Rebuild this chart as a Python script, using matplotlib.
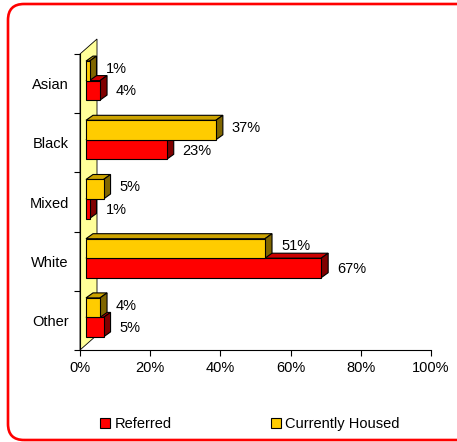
import matplotlib
matplotlib.use("Agg")
import matplotlib.pyplot as plt
from matplotlib.patches import Polygon, FancyBboxPatch, Patch
from matplotlib.transforms import IdentityTransform

plt.rcParams['font.family'] = ['Liberation Sans', 'DejaVu Sans']

categories = ['Asian', 'Black', 'Mixed', 'White', 'Other']
referred = [4, 23, 1, 67, 5]
housed = [1, 37, 5, 51, 4]
xticks = [0, 20, 40, 60, 80, 100]

W, H = 457, 442
fig = plt.figure(figsize=(W / 100, H / 100), dpi=100)

# plot box in pixels: x 80..431, y 54..350 (from top)
px_l, px_r, px_t, px_b = 80, 431, 54, 350
ax = fig.add_axes([px_l / W, (H - px_b) / H, (px_r - px_l) / W, (px_b - px_t) / H])
n = len(categories)
ax.set_xlim(0, 100)
ax.set_ylim(0, n)

# pixel -> data helpers
sx = 100 / (px_r - px_l)
sy = n / (px_b - px_t)

# side wall behind the bars
wx, wy = 17 * sx, 15 * sy
wall = Polygon([(0, 0), (0, n), (wx, n + wy), (wx, wy)], closed=True,
               facecolor='#FFFF99', edgecolor='black', linewidth=0.6,
               clip_on=False, zorder=0)
ax.add_patch(wall)

x0 = 6 * sx          # front face offset
bh = 19.5 * sy       # bar height
lift = 3 * sy        # pair shifted up inside band
ddx, ddy = 7 * sx, 5 * sy   # bar depth

centers = [n - 0.5 - i for i in range(n)]
yel_y = [c + lift + bh / 2 for c in centers]
red_y = [c + lift - bh / 2 for c in centers]


def bars3d(ys, vals, front, top, side, z):
    rects = ax.barh(ys, vals, left=x0, height=bh, color=front,
                    edgecolor='black', linewidth=0.8, zorder=z + 0.5)
    for r in rects:
        xa, ya = r.get_x(), r.get_y()
        xb, yb = xa + r.get_width(), ya + r.get_height()
        ax.add_patch(Polygon([(xa, yb), (xb, yb), (xb + ddx, yb + ddy), (xa + ddx, yb + ddy)],
                             closed=True, facecolor=top, edgecolor='black',
                             linewidth=0.8, zorder=z, clip_on=False))
        ax.add_patch(Polygon([(xb, ya), (xb + ddx, ya + ddy), (xb + ddx, yb + ddy), (xb, yb)],
                             closed=True, facecolor=side, edgecolor='black',
                             linewidth=0.8, zorder=z, clip_on=False))
    return rects


bars3d(red_y, referred, '#FF0000', '#CC0000', '#800000', 2)
bars3d(yel_y, housed, '#FFCC00', '#CCA300', '#806600', 3)

lab_off = 22 * sx
for y, v in zip(yel_y, housed):
    ax.text(v + lab_off, y + 2 * sy, f'{v}%', va='center', ha='left', fontsize=10.5)
for y, v in zip(red_y, referred):
    ax.text(v + lab_off, y - 1 * sy, f'{v}%', va='center', ha='left', fontsize=10.5)

for s in ['top', 'right']:
    ax.spines[s].set_visible(False)
for s in ['left', 'bottom']:
    ax.spines[s].set_linewidth(0.8)
    ax.spines[s].set_zorder(1)

ax.set_xticks(xticks)
ax.set_xticklabels([f'{t}%' for t in xticks], fontsize=10.5)
ax.tick_params(axis='x', length=4, width=0.8, pad=4)

ax.set_yticks(range(n + 1))
ax.set_yticklabels([])
ax.tick_params(axis='y', which='major', length=4, width=0.8)
ax.set_yticks(centers, minor=True)
ax.set_yticklabels(categories, minor=True, fontsize=10.5)
ax.tick_params(axis='y', which='minor', length=0, pad=8)

handles = [Patch(facecolor='#FF0000', edgecolor='black', linewidth=0.8, label='Referred'),
           Patch(facecolor='#FFCC00', edgecolor='black', linewidth=0.8, label='Currently Housed')]
fig.legend(handles=handles, loc='center', bbox_to_anchor=(250 / W, (H - 424) / H),
           ncol=2, frameon=False, fontsize=10.5, handlelength=0.7, handleheight=0.7,
           handletextpad=0.3, columnspacing=6.8, borderpad=0)

# rounded red frame running off the right edge
frame = FancyBboxPatch((8, 2), 520, 436, boxstyle='round,pad=0,rounding_size=16',
                       transform=IdentityTransform(), facecolor='none',
                       edgecolor='#FF0000', linewidth=1.9)
fig.patches.append(frame)

fig.savefig('out.png', dpi=100)
